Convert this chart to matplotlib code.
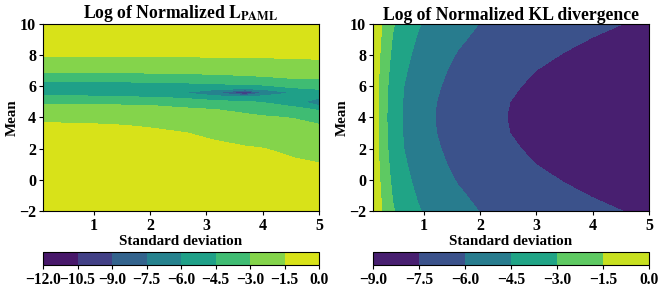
import numpy as np
import matplotlib
matplotlib.use("Agg")
import matplotlib.pyplot as plt

plt.rcParams['font.family'] = ['Liberation Serif', 'DejaVu Serif']
plt.rcParams['font.weight'] = 'bold'
plt.rcParams['mathtext.fontset'] = 'stix'

# ---- left panel: log of normalized L_PAML ----
paml_std = [0.1, 1.0, 2.0, 2.54, 3.16, 3.69, 4.02, 4.56, 5.0]
paml_mean = [-2, 0, 1, 2, 3, 3.5, 4, 4.5, 4.76, 5.0, 5.32, 5.59, 5.86,
             6.2, 6.5, 7.0, 7.5, 8.0, 9.0, 10]
# one list per standard deviation column (values along the mean axis)
paml_s010 = [-0.05, -0.54, -0.79, -1.04, -1.28, -1.41, -1.67, -2.40, -2.78, -3.29,
             -4.31, -4.94, -5.50, -4.79, -3.97, -2.71, -2.00, -1.41, -0.81, -0.20]
paml_s100 = [-0.05, -0.55, -0.80, -1.05, -1.30, -1.43, -1.80, -2.48, -2.84, -3.38,
             -4.38, -4.97, -5.48, -4.77, -3.93, -2.69, -2.00, -1.41, -0.81, -0.20]
paml_s200 = [-0.10, -0.61, -0.87, -1.13, -1.38, -1.56, -2.12, -2.68, -2.98, -3.63,
             -4.55, -5.16, -5.43, -4.69, -3.82, -2.65, -1.96, -1.40, -0.80, -0.20]
paml_s254 = [-0.15, -0.67, -0.93, -1.19, -1.45, -1.80, -2.31, -2.81, -3.18, -3.82,
             -4.76, -5.95, -5.35, -4.59, -3.70, -2.62, -1.92, -1.38, -0.79, -0.20]
paml_s316 = [-0.20, -0.74, -1.01, -1.29, -1.69, -2.12, -2.55, -2.98, -3.57, -4.14,
             -5.50, -7.45, -5.50, -4.38, -3.51, -2.56, -1.88, -1.37, -0.79, -0.20]
paml_s369 = [-0.30, -0.85, -1.13, -1.40, -1.99, -2.36, -2.74, -3.25, -3.89, -4.41,
             -5.85, -11.0, -5.85, -4.05, -3.32, -2.50, -1.83, -1.36, -0.78, -0.20]
paml_s402 = [-0.35, -0.91, -1.20, -1.48, -2.15, -2.50, -2.85, -3.58, -4.13, -4.60,
             -5.50, -7.45, -5.50, -3.95, -3.21, -2.45, -1.80, -1.35, -0.77, -0.20]
paml_s456 = [-0.45, -1.03, -1.33, -1.75, -2.39, -2.70, -3.06, -4.06, -4.66, -5.65,
             -5.70, -5.95, -4.62, -3.75, -3.00, -2.36, -1.73, -1.32, -0.76, -0.20]
paml_s500 = [-0.55, -1.15, -1.45, -2.00, -2.60, -2.90, -3.64, -4.60, -5.98, -6.50,
             -5.81, -5.09, -4.38, -3.59, -2.94, -2.31, -1.68, -1.30, -0.75, -0.20]

# ---- right panel: log of normalized KL divergence ----
kl_std = [0.1, 0.2, 0.3, 0.45, 0.65, 0.9, 1.2, 1.6, 2.0, 2.5, 3.0, 3.5, 4.0, 4.5, 5.0]
kl_mean = list(range(-2, 11))
# rows for |mean - 4| = 0..6 (the picture is symmetric about mean 4)
kl_d0 = [-0.30, -1.63, -2.68, -3.72, -4.64, -5.36, -6.00, -6.60, -7.06, -7.52, -7.86, -8.14, -8.39, -8.61, -8.80]
kl_d1 = [-0.28, -1.61, -2.65, -3.69, -4.61, -5.33, -5.96, -6.56, -7.02, -7.48, -7.81, -8.10, -8.34, -8.56, -8.75]
kl_d2 = [-0.22, -1.53, -2.57, -3.59, -4.51, -5.22, -5.84, -6.44, -6.89, -7.34, -7.69, -7.96, -8.20, -8.41, -8.60]
kl_d3 = [-0.15, -1.42, -2.43, -3.45, -4.34, -5.06, -5.68, -6.28, -6.72, -7.15, -7.51, -7.76, -7.98, -8.18, -8.35]
kl_d4 = [-0.08, -1.30, -2.26, -3.28, -4.14, -4.86, -5.47, -6.07, -6.50, -6.92, -7.27, -7.55, -7.76, -7.94, -8.10]
kl_d5 = [-0.03, -1.18, -2.05, -3.09, -3.91, -4.63, -5.23, -5.83, -6.26, -6.68, -7.02, -7.30, -7.54, -7.70, -7.85]
kl_d6 = [0.00, -1.06, -1.81, -2.87, -3.69, -4.39, -4.98, -5.57, -6.03, -6.43, -6.76, -7.04, -7.28, -7.49, -7.68]

paml_levels = np.arange(-12, 0.01, 1.5)
kl_levels = np.arange(-9, 0.01, 1.5)

paml = np.column_stack([paml_s010, paml_s100, paml_s200, paml_s254, paml_s316,
                        paml_s369, paml_s402, paml_s456, paml_s500])
kl_half = np.array([kl_d0, kl_d1, kl_d2, kl_d3, kl_d4, kl_d5, kl_d6])
kl = np.vstack([kl_half[::-1], kl_half[1:]])

fig = plt.figure(figsize=(6.65, 2.9), dpi=100)
ax1 = fig.add_axes([0.0647, 0.2724, 0.415, 0.645])
ax2 = fig.add_axes([0.561, 0.2724, 0.415, 0.645])
cax1 = fig.add_axes([0.0647, 0.0862, 0.415, 0.045])
cax2 = fig.add_axes([0.561, 0.0862, 0.415, 0.045])

cs1 = ax1.contourf(paml_std, paml_mean, paml, levels=paml_levels, cmap='viridis')
cs2 = ax2.contourf(kl_std, kl_mean, kl, levels=kl_levels, cmap='viridis')

titles = [r'Log of Normalized $\mathrm{L}_{\mathrm{PAML}}$', 'Log of Normalized KL divergence']
for ax, t in zip([ax1, ax2], titles):
    ax.set_xlim(0.1, 5)
    ax.set_ylim(-2, 10)
    ax.set_xticks([1, 2, 3, 4, 5])
    ax.set_yticks([-2, 0, 2, 4, 6, 8, 10])
    ax.tick_params(labelsize=11.5, length=3, pad=2)
    ax.set_title(t, fontsize=12.7, fontweight='bold', pad=3)
    ax.set_xlabel('Standard deviation', fontsize=10.8, fontweight='bold', labelpad=1)
    ax.set_ylabel('Mean', fontsize=10.8, fontweight='bold', labelpad=0)

for cs, cax, lv in [(cs1, cax1, paml_levels), (cs2, cax2, kl_levels)]:
    cb = fig.colorbar(cs, cax=cax, orientation='horizontal', ticks=lv)
    cb.ax.tick_params(labelsize=11.2, length=3, pad=2)

fig.savefig('out.png', dpi=100)
